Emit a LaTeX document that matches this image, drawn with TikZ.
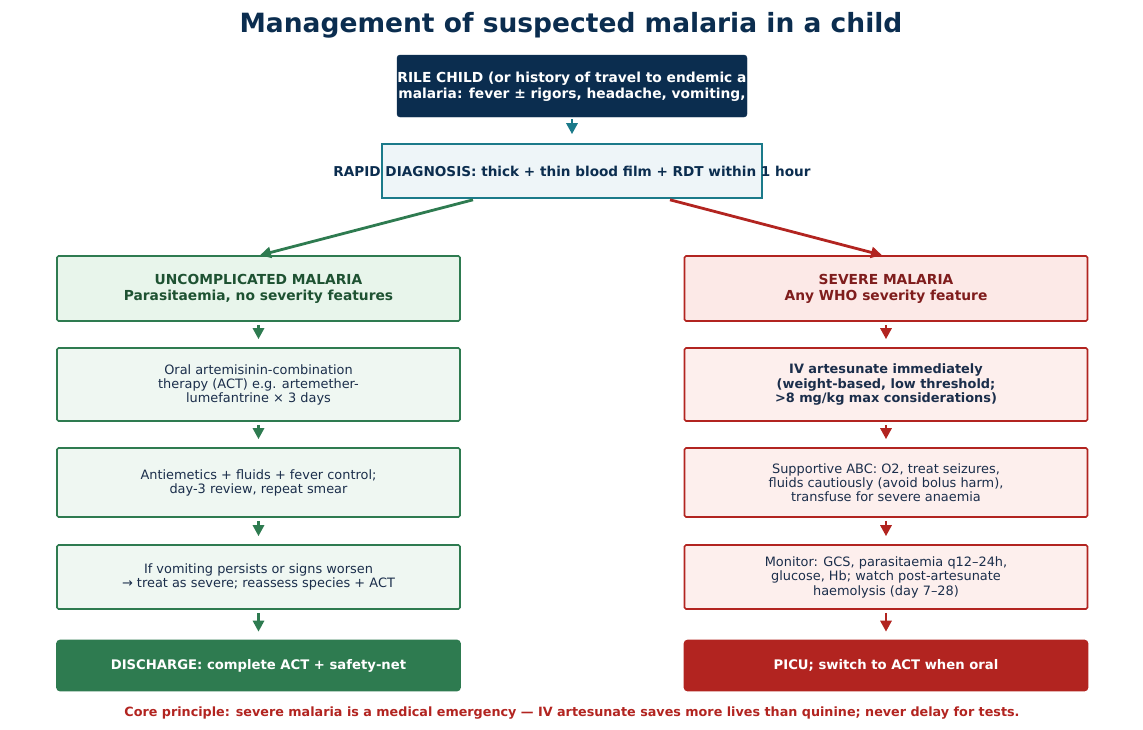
\documentclass[tikz,border=0pt]{standalone}
\usepackage{fontspec}
\setmainfont{DejaVu Sans}
\usepackage{xcolor}
\usepackage{tikz}
\usetikzlibrary{arrows.meta,calc}
\definecolor{MalNavy}{HTML}{0B2D4F}
\definecolor{MalInk}{HTML}{1B2E4B}
\definecolor{MalTeal}{HTML}{1B7A8A}
\definecolor{MalTealPale}{HTML}{EEF5F8}
\definecolor{MalGreen}{HTML}{2E7B50}
\definecolor{MalGreenDark}{HTML}{1E5232}
\definecolor{MalGreenHead}{HTML}{E8F5EB}
\definecolor{MalGreenPale}{HTML}{EFF7F2}
\definecolor{MalRed}{HTML}{B22420}
\definecolor{MalRedDark}{HTML}{7F1D1D}
\definecolor{MalRedHead}{HTML}{FCE9E7}
\definecolor{MalRedPale}{HTML}{FDEFED}

\begin{document}
\begin{tikzpicture}[x=1pt,y=-1pt,
  box/.style={draw,line width=1.6pt,rounded corners=1.5pt,minimum width=403pt,
    inner sep=0pt,align=center},
  bodyfont/.style={font=\fontsize{12.9}{14}\selectfont},
  headfont/.style={font=\bfseries\fontsize{13.8}{16}\selectfont},
  greenbox/.style={box,draw=MalGreen,fill=MalGreenPale,text=MalInk,bodyfont},
  redbox/.style={box,draw=MalRed,fill=MalRedPale,text=MalInk,bodyfont},
  endbox/.style={box,rounded corners=3pt,text=white,minimum height=50pt,
    font=\bfseries\fontsize{13.2}{16}\selectfont},
  link/.style={-{Triangle[length=11pt,width=11pt]},line width=2.8pt},
  flowarrow/.style={link,shorten <=3pt,shorten >=8pt}]
  \useasboundingbox (0,0) rectangle (1143,729);

  \node[MalNavy,font=\bfseries\fontsize{26.5}{30}\selectfont] (title) at (571,25)
    {Management of suspected malaria in a child};

  % entry and diagnosis
  \node[draw=MalNavy,fill=MalNavy,rounded corners=3pt,minimum width=350pt,
    minimum height=62pt] (febrile) at (572,86) {};
  \begin{scope}
    \clip (febrile.south west) rectangle (febrile.north east);
    \node[text=white,headfont,align=center] (febriletext) at ($(febrile)+(0,1)$)
      {RILE CHILD (or history of travel to endemic a\\
       malaria: fever ± rigors, headache, vomiting,};
  \end{scope}
  \node[draw=MalTeal,fill=MalTealPale,line width=1.6pt,minimum width=380pt,
    minimum height=54pt] (diag) at (572,171) {};
  \node[MalNavy,font=\bfseries\fontsize{13.6}{16}\selectfont] (diagtext) at (diag)
    {RAPID DIAGNOSIS: thick + thin blood film + RDT within 1 hour};
  \draw[link,MalTeal,shorten <=2pt,shorten >=9pt] (febrile) -- (diag);

  % uncomplicated branch
  \node[greenbox,fill=MalGreenHead,text=MalGreenDark,headfont,minimum height=65pt]
    (unc) at (258.5,288.5) {UNCOMPLICATED MALARIA\\Parasitaemia, no severity features};
  \node[greenbox,minimum height=73pt] (uact) at (258.5,384.5)
    {Oral artemisinin-combination\\therapy (ACT) e.g. artemether-\\lumefantrine × 3 days};
  \node[greenbox,minimum height=69pt] (usupp) at (258.5,482.5)
    {Antiemetics + fluids + fever control;\\day-3 review, repeat smear};
  \node[greenbox,minimum height=64pt] (uworse) at (258.5,577)
    {If vomiting persists or signs worsen\\→ treat as severe; reassess species + ACT};
  \node[endbox,draw=MalGreen,fill=MalGreen] (udisch) at (258.5,665.5)
    {DISCHARGE: complete ACT + safety-net};

  % severe branch
  \node[redbox,fill=MalRedHead,text=MalRedDark,headfont,minimum height=65pt]
    (sev) at (886,288.5) {SEVERE MALARIA\\Any WHO severity feature};
  \node[redbox,font=\bfseries\fontsize{12.9}{14.5}\selectfont,minimum height=73pt]
    (sart) at (886,384.5)
    {IV artesunate immediately\\(weight-based, low threshold;\\>8 mg/kg max considerations)};
  \node[redbox,minimum height=69pt] (ssupp) at (886,482.5)
    {Supportive ABC: O2, treat seizures,\\fluids cautiously (avoid bolus harm),\\transfuse for severe anaemia};
  \node[redbox,font=\fontsize{12.9}{14.5}\selectfont,minimum height=64pt] (smon) at (886,577)
    {Monitor: GCS, parasitaemia q12–24h,\\glucose, Hb; watch post-artesunate\\haemolysis (day 7–28)};
  \node[endbox,draw=MalRed,fill=MalRed] (spicu) at (886,665.5)
    {PICU; switch to ACT when oral};

  \draw[link,MalGreen] ($(diag.south)+(-99,1)$) -- ($(unc.north)+(1.5,0)$);
  \draw[link,MalRed] ($(diag.south)+(98,1)$) -- ($(sev.north)+(-4,0)$);
  \foreach \a/\b in {unc/uact,uact/usupp,usupp/uworse,uworse/udisch}{%
    \draw[flowarrow,MalGreen] (\a.south) -- (\b.north);
  }
  \foreach \a/\b in {sev/sart,sart/ssupp,ssupp/smon,smon/spicu}{%
    \draw[flowarrow,MalRed] (\a.south) -- (\b.north);
  }

  \node[MalRed,font=\bfseries\fontsize{12.75}{14}\selectfont] (core) at (572,713)
    {Core principle: severe malaria is a medical emergency — IV artesunate saves more lives than quinine; never delay for tests.};
\end{tikzpicture}
\end{document}
